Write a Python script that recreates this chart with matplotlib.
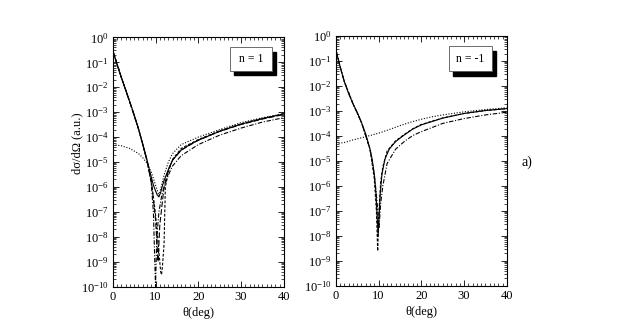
import matplotlib
matplotlib.use('Agg')
import matplotlib.pyplot as plt
from matplotlib.ticker import MultipleLocator, LogLocator, NullFormatter, FixedLocator
from matplotlib.patches import Rectangle

plt.rcParams['font.family'] = 'Liberation Serif'
plt.rcParams['mathtext.fontset'] = 'custom'
plt.rcParams['mathtext.rm'] = 'Liberation Serif'
plt.rcParams['mathtext.it'] = 'Liberation Serif:italic'

## n = 1 panel
th_sl = [0, 1, 2, 3, 4, 5, 6, 7, 8, 9, 9.5, 10, 10.4, 10.8, 11.2, 11.6, 12, 13, 14, 16, 18, 20, 25, 30, 35, 40]
solid_l = [3e-1, 8e-2, 2.5e-2, 8e-3, 2.5e-3, 8e-4, 2.2e-4, 5.5e-5, 1.2e-5, 2.5e-6, 1.2e-6, 7e-7, 4.8e-7,
           4e-7, 6e-7, 1.1e-6, 1.8e-6, 5e-6, 1.2e-5, 3e-5, 5e-5, 7.5e-5, 1.7e-4, 3.3e-4, 5.5e-4, 8.5e-4]

th_dl = [0, 2, 4, 6, 8, 9, 9.5, 10, 10.4, 10.8, 11.2, 11.4, 11.6, 12, 12.3, 13, 14, 16, 20, 25, 30, 35, 40]
dash_l = [3e-1, 2.5e-2, 2.5e-3, 2.2e-4, 1.1e-5, 1.5e-6, 4e-7, 8e-8, 1.5e-8, 2.5e-9, 4e-10, 3e-10, 6e-10,
          5e-9, 1e-6, 4e-6, 1.3e-5, 3.5e-5, 8e-5, 1.8e-4, 3.4e-4, 5.6e-4, 8.6e-4]

th_ll = [0, 2, 4, 6, 8, 9, 10, 10.6, 11, 12, 13, 14, 16, 20, 25, 30, 35, 40]
ldash_l = [3e-1, 2.5e-2, 2.5e-3, 2.2e-4, 1.2e-5, 2e-6, 5e-8, 1e-9, 3e-8, 1e-6, 5e-6, 1.2e-5, 3e-5,
           7.5e-5, 1.7e-4, 3.2e-4, 5.3e-4, 8e-4]

th_al = [0, 2, 4, 6, 8, 9, 9.5, 10, 10.3, 10.8, 11.5, 12, 13, 14, 16, 20, 25, 30, 35, 40]
dashdot_l = [3e-1, 2.5e-2, 2.5e-3, 2.2e-4, 1.2e-5, 1.5e-6, 1e-7, 1e-10, 1e-8, 1e-7, 5e-7, 1e-6, 3e-6,
             7e-6, 1.8e-5, 5e-5, 1.2e-4, 2.3e-4, 4e-4, 6e-4]

th_ol = [0, 2, 4, 6, 7, 8, 9, 10, 10.8, 11.5, 12, 13, 14, 16, 20, 25, 30, 35, 40]
dot_l = [5e-5, 4.5e-5, 3.5e-5, 2.2e-5, 1.5e-5, 9e-6, 4e-6, 1.2e-6, 4.5e-7, 1.3e-6, 3e-6, 1e-5, 2.2e-5,
         5e-5, 1e-4, 2e-4, 3.8e-4, 6e-4, 8.5e-4]

## n = -1 panel
th_sr = [0, 0.5, 1, 2, 3, 4, 5, 6, 7, 8, 8.5, 9, 9.4, 9.7, 9.9, 10.1, 10.4, 10.8, 11.5, 12.5, 14, 16, 18, 20, 25, 30, 35, 40]
solid_r = [3e-1, 1.3e-1, 6e-2, 1.5e-2, 5e-3, 2e-3, 9e-4, 3.5e-4, 1.2e-4, 3e-5, 1.2e-5, 3e-6, 5e-7, 5e-8,
           1e-8, 5e-8, 5e-7, 3e-6, 1.2e-5, 3e-5, 6e-5, 1.1e-4, 1.9e-4, 2.8e-4, 5.2e-4, 8e-4, 1.05e-3, 1.25e-3]

th_dr = [0, 1, 2, 4, 6, 8, 9, 9.5, 9.8, 10.1, 10.5, 11, 12, 14, 16, 18, 20, 25, 30, 35, 40]
dash_r = [3e-1, 6e-2, 1.5e-2, 2e-3, 3.5e-4, 3e-5, 2e-6, 1e-7, 2.5e-9, 1e-7, 1.5e-6, 6e-6, 2.5e-5,
          6.5e-5, 1.15e-4, 1.95e-4, 2.9e-4, 5.3e-4, 8e-4, 1.05e-3, 1.25e-3]

th_ar = [0, 1, 2, 4, 6, 8, 9, 9.6, 10.1, 10.5, 11, 12, 14, 16, 18, 20, 25, 30, 35, 40]
dashdot_r = [3e-1, 6e-2, 1.5e-2, 2e-3, 3.5e-4, 3e-5, 3e-6, 3e-7, 2e-8, 2e-7, 1e-6, 8e-6, 3e-5,
             6e-5, 1.05e-4, 1.5e-4, 3.2e-4, 5e-4, 7e-4, 9e-4]

th_or = [0, 2, 4, 6, 8, 10, 12, 15, 17.5, 20, 22.5, 25, 30, 35, 40]
dot_r = [5e-5, 5.5e-5, 7e-5, 8.5e-5, 1.05e-4, 1.3e-4, 1.7e-4, 2.6e-4, 3.6e-4, 4.7e-4, 5.9e-4, 7e-4,
         9.3e-4, 1.15e-3, 1.35e-3]

panels = [
    ('n = 1', [(th_sl, solid_l, '-'), (th_dl, dash_l, (0, (2.5, 1.5))), (th_ll, ldash_l, (0, (5, 2))),
               (th_al, dashdot_l, (0, (4, 1.5, 1, 1.5))), (th_ol, dot_l, (0, (1, 1.5)))],
     [0.181, 0.126, 0.2745, 0.76], [0.684, 0.867, 0.246, 0.093]),
    ('n = -1', [(th_sr, solid_r, '-'), (th_dr, dash_r, (0, (2.5, 1.5))),
                (th_ar, dashdot_r, (0, (4, 1.5, 1, 1.5))), (th_or, dot_r, (0, (1, 1.5)))],
     [0.539, 0.128, 0.2745, 0.762], [0.66, 0.86, 0.252, 0.1]),
]

fig = plt.figure(figsize=(6.23, 3.28), dpi=100)

ytick_vals = [10.0 ** -k for k in range(0, 11)]
ytick_labels = ['10$^{0}$'] + ['10$^{-%d}$' % k for k in range(1, 11)]

for label, curves, pos, box in panels:
    ax = fig.add_axes(pos)
    for th, vals, ls in curves:
        ax.plot(th, vals, color='black', lw=0.8, ls=ls)
    ax.set_yscale('log')
    ax.set_xlim(0, 40)
    ax.set_ylim(1e-10, 1)
    ax.yaxis.set_major_locator(FixedLocator(ytick_vals))
    ax.set_yticklabels(ytick_labels)
    ax.yaxis.set_minor_locator(LogLocator(base=10, subs=range(2, 10), numticks=20))
    ax.yaxis.set_minor_formatter(NullFormatter())
    ax.xaxis.set_major_locator(MultipleLocator(10))
    ax.xaxis.set_minor_locator(MultipleLocator(1))
    ax.tick_params(which='both', direction='in', top=True, right=True, labelsize=9, pad=3)
    ax.tick_params(which='major', length=4, width=0.6)
    ax.tick_params(which='minor', length=2, width=0.5)
    for sp in ax.spines.values():
        sp.set_linewidth(0.8)
    ax.set_xlabel('θ(deg)', fontsize=9, labelpad=3)
    # label box with drop shadow
    bx, by, bw, bh = box
    ax.add_patch(Rectangle((bx + 0.025, by - 0.018), bw, bh, transform=ax.transAxes,
                           facecolor='black', edgecolor='black', zorder=5))
    ax.add_patch(Rectangle((bx, by), bw, bh, transform=ax.transAxes,
                           facecolor='white', edgecolor='#555555', lw=0.6, zorder=6))
    ax.text(bx + bw / 2, by + bh / 2, label, transform=ax.transAxes, ha='center', va='center',
            fontsize=8.5, zorder=7)

fig.text(77 / 623, 1 - 143 / 328, 'dσ/dΩ (a.u.)', rotation=90, ha='center', va='center', fontsize=9)
fig.text(527 / 623, 1 - 162 / 328, 'a)', ha='center', va='center', fontsize=10)

fig.savefig('out.png', dpi=100)
